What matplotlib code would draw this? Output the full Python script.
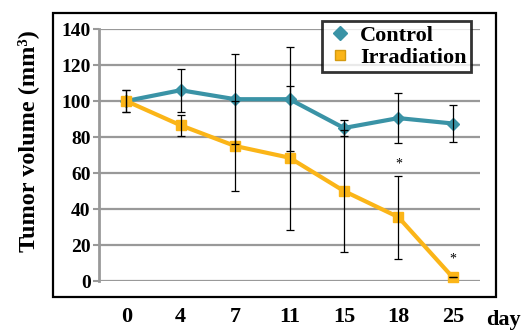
import numpy as np
import matplotlib.pyplot as plt
from matplotlib.patches import Rectangle
from matplotlib.lines import Line2D

days = ['0', '4', '7', '11', '15', '18', '25']
control = [100, 106, 101, 101, 85, 90.5, 87.5]
control_err = [6, 12, 25, 29, 4.5, 14, 10.5]
irradiation = [100, 86.5, 75, 68.5, 50, 35.5, 2]
irradiation_err = [6, 6, 25, 40, 34, 23, 0]
stars = {5: 65, 6: 12}

teal = '#3a93a6'
gold = '#fbb518'

plt.rcParams['font.family'] = ['Liberation Serif', 'DejaVu Serif']
plt.rcParams['font.weight'] = 'bold'

fig = plt.figure(figsize=(5.24, 3.31), dpi=100)
ax = fig.add_axes([99 / 524, 50 / 331, 381 / 524, 252 / 331])

x = np.arange(len(days))

ax.plot(x, control, color=teal, lw=3, marker='D', ms=6.5, mec=teal, zorder=2, clip_on=False)
ax.plot(x, irradiation, color=gold, lw=3, marker='s', ms=7, mec=gold, zorder=2, clip_on=False)
ax.errorbar(x, control, yerr=control_err, fmt='none', ecolor='black', elinewidth=0.9,
            capsize=2.6, capthick=0.9, zorder=3)
ax.errorbar(x, irradiation, yerr=irradiation_err, fmt='none', ecolor='black', elinewidth=0.9,
            capsize=2.6, capthick=0.9, zorder=3)

for i, y in stars.items():
    ax.text(x[i], y, '*', ha='center', va='center', fontsize=10, fontweight='normal')

ax.set_xlim(-0.5, len(days) - 0.5)
ax.set_ylim(0, 140)
ax.set_yticks(np.arange(0, 141, 20))
ax.set_xticks(x)
ax.set_xticklabels(days, fontsize=16)
ax.tick_params(axis='x', length=0, pad=19)
ax.tick_params(axis='y', length=4, width=1.5, color='#999999', labelsize=14, pad=2)
ax.yaxis.grid(True, color='#999999', lw=1.6)
ax.set_axisbelow(True)
for s in ['top', 'right', 'bottom']:
    ax.spines[s].set_visible(False)
ax.spines['left'].set_color('#999999')
ax.spines['left'].set_linewidth(2)

fig.text(28 / 524, 1 - 141 / 331, 'Tumor volume (mm³)', rotation=90,
         ha='center', va='center', fontsize=17.5)
fig.text(503 / 524, 1 - 320 / 331, 'day', ha='center', va='center', fontsize=16)

fig.patches.append(Rectangle((53 / 524, 34 / 331), 443 / 524, 284 / 331,
                             transform=fig.transFigure, fill=False, ec='black', lw=1.6))

handles = [Line2D([], [], ls='none', marker='D', ms=7, color=teal),
           Line2D([], [], ls='none', marker='s', ms=7, color=gold, mec='#d49a10')]
leg = fig.legend(handles, ['Control', 'Irradiation'], loc='upper right',
                 bbox_to_anchor=(471 / 524, 1 - 21 / 331), fontsize=16,
                 frameon=True, fancybox=False, handletextpad=0.3, handlelength=1.2,
                 borderpad=0.2, labelspacing=0.05, borderaxespad=0)
leg.get_frame().set_edgecolor('black')
leg.get_frame().set_linewidth(2)

fig.savefig('out.png', dpi=100)
